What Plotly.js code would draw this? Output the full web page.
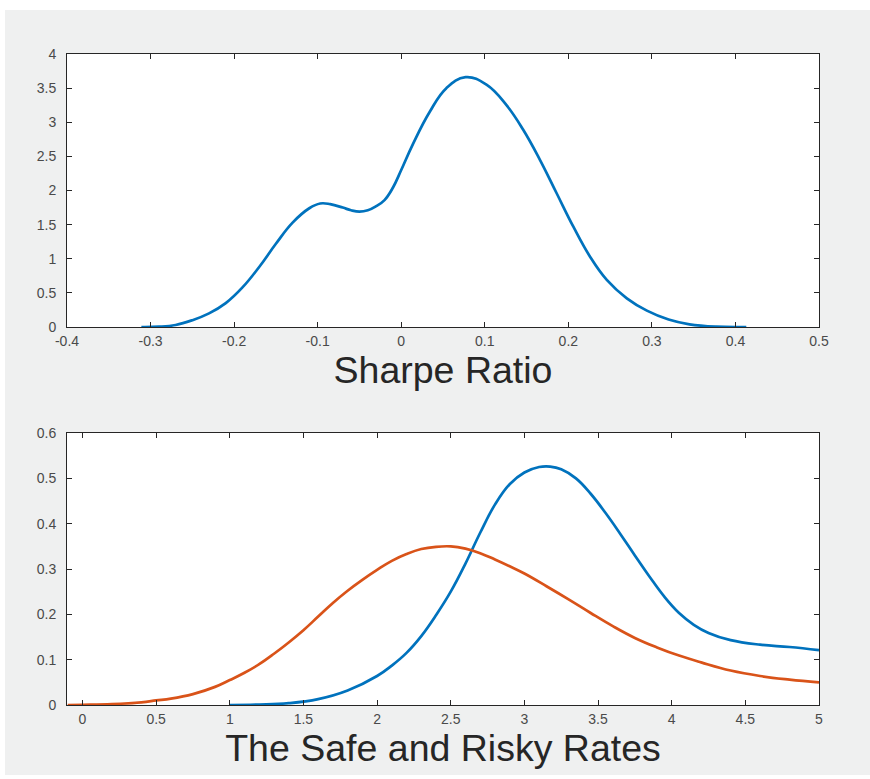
<!DOCTYPE html>
<html>
<head>
<meta charset="utf-8">
<script src="https://cdn.plot.ly/plotly-3.0.1.min.js"></script>
<style>
  html, body { margin: 0; padding: 0; background: #ffffff; width: 870px; height: 779px; overflow: hidden; }
  #chart { position: absolute; left: 5px; top: 10px; width: 865px; height: 765px; }
</style>
</head>
<body>
<div id="chart"></div>
<script>
// Sharpe ratio density (top panel)
const sharpeX = [-0.311, -0.29, -0.27, -0.25, -0.23, -0.21, -0.19, -0.17, -0.15, -0.13, -0.11, -0.097, -0.085, -0.07, -0.06, -0.05, -0.04, -0.03, -0.02, -0.01, 0.0, 0.014, 0.034, 0.054, 0.077, 0.102, 0.126, 0.146, 0.166, 0.186, 0.206, 0.226, 0.246, 0.270, 0.294, 0.320, 0.345, 0.377, 0.413];
const sharpeY = [0, 0.005, 0.03, 0.10, 0.20, 0.35, 0.58, 0.88, 1.22, 1.53, 1.74, 1.81, 1.80, 1.75, 1.71, 1.69, 1.71, 1.77, 1.86, 2.04, 2.30, 2.68, 3.15, 3.50, 3.66, 3.55, 3.25, 2.89, 2.45, 1.96, 1.47, 1.03, 0.69, 0.42, 0.24, 0.11, 0.04, 0.005, 0];

// Safe rate density (bottom panel, blue)
const safeX = [1.0, 1.2, 1.4, 1.6, 1.8, 2.0, 2.1, 2.2, 2.3, 2.4, 2.5, 2.6, 2.7, 2.8, 2.9, 3.0, 3.1, 3.175, 3.25, 3.35, 3.45, 3.55, 3.65, 3.75, 3.85, 3.95, 4.05, 4.15, 4.25, 4.4, 4.6, 4.8, 5.0];
const safeY = [0, 0.001, 0.004, 0.013, 0.032, 0.064, 0.087, 0.115, 0.152, 0.198, 0.250, 0.312, 0.380, 0.442, 0.487, 0.513, 0.525, 0.526, 0.520, 0.500, 0.466, 0.424, 0.378, 0.330, 0.283, 0.239, 0.203, 0.177, 0.159, 0.143, 0.133, 0.128, 0.121];

// Risky rate density (bottom panel, orange)
const riskyX = [-0.1, 0.0, 0.2, 0.4, 0.5, 0.6, 0.75, 0.9, 1.0, 1.1, 1.2, 1.3, 1.4, 1.5, 1.6, 1.7, 1.8, 1.9, 2.0, 2.1, 2.2, 2.3, 2.4, 2.5, 2.6, 2.7, 2.8, 2.9, 3.0, 3.15, 3.3, 3.45, 3.6, 3.75, 3.9, 4.05, 4.2, 4.4, 4.6, 4.8, 5.0];
const riskyY = [0, 0.0005, 0.002, 0.006, 0.010, 0.014, 0.024, 0.040, 0.055, 0.071, 0.090, 0.113, 0.138, 0.165, 0.195, 0.225, 0.252, 0.276, 0.298, 0.318, 0.333, 0.344, 0.349, 0.350, 0.345, 0.335, 0.321, 0.306, 0.290, 0.262, 0.233, 0.203, 0.174, 0.148, 0.127, 0.109, 0.094, 0.076, 0.064, 0.056, 0.050];

// Tick labels
const topXTicks = [-0.4, -0.3, -0.2, -0.1, 0, 0.1, 0.2, 0.3, 0.4, 0.5];
const topXLabels = ["-0.4", "-0.3", "-0.2", "-0.1", "0", "0.1", "0.2", "0.3", "0.4", "0.5"];
const topYTicks = [0, 0.5, 1, 1.5, 2, 2.5, 3, 3.5, 4];
const topYLabels = ["0", "0.5", "1", "1.5", "2", "2.5", "3", "3.5", "4"];
const botXTicks = [0, 0.5, 1, 1.5, 2, 2.5, 3, 3.5, 4, 4.5, 5];
const botXLabels = ["0", "0.5", "1", "1.5", "2", "2.5", "3", "3.5", "4", "4.5", "5"];
const botYTicks = [0, 0.1, 0.2, 0.3, 0.4, 0.5, 0.6];
const botYLabels = ["0", "0.1", "0.2", "0.3", "0.4", "0.5", "0.6"];

// Axis titles
const topTitle = 'Sharpe Ratio';
const bottomTitle = 'The Safe and Risky Rates';

const blue = '#0072BD';
const orange = '#D95319';
const FONT = '"Liberation Sans", Arial, Helvetica, sans-serif';

const lineStyle = (c) => ({ color: c, width: 2.7, shape: 'spline', smoothing: 1.2 });

const traces = [
  { x: sharpeX, y: sharpeY, type: 'scatter', mode: 'lines', xaxis: 'x', yaxis: 'y',
    line: lineStyle(blue), hoverinfo: 'skip' },
  { x: safeX, y: safeY, type: 'scatter', mode: 'lines', xaxis: 'x2', yaxis: 'y2',
    line: lineStyle(blue), hoverinfo: 'skip' },
  { x: riskyX, y: riskyY, type: 'scatter', mode: 'lines', xaxis: 'x2', yaxis: 'y2',
    line: lineStyle(orange), hoverinfo: 'skip' }
];

const axisCommon = {
  showline: true, linecolor: '#262626', linewidth: 1, mirror: 'ticks',
  ticks: 'inside', ticklen: 5, tickwidth: 1, tickcolor: '#262626',
  showgrid: false, zeroline: false,
  tickfont: { family: FONT, size: 14, color: '#4a4a4a' },
  tickmode: 'array', fixedrange: true
};

const titleFont = { family: FONT, size: 37.5, color: '#262626' };

const layout = {
  width: 865, height: 765,
  paper_bgcolor: '#eff0f0', plot_bgcolor: '#ffffff',
  margin: { l: 62, r: 51, t: 44, b: 70 },
  showlegend: false,
  font: { family: FONT },
  xaxis: Object.assign({}, axisCommon, {
    domain: [0, 1], anchor: 'y', range: [-0.4, 0.5],
    tickvals: topXTicks, ticktext: topXLabels, ticklabelstandoff: 1,
    title: { text: topTitle, font: titleFont, standoff: 0 }
  }),
  yaxis: Object.assign({}, axisCommon, {
    domain: [0.5806, 1], anchor: 'x', range: [0, 4],
    tickvals: topYTicks, ticktext: topYLabels, ticklabelstandoff: 7
  }),
  xaxis2: Object.assign({}, axisCommon, {
    domain: [0, 1], anchor: 'y2', range: [-0.105, 5],
    tickvals: botXTicks, ticktext: botXLabels, ticklabelstandoff: 1,
    title: { text: bottomTitle, font: titleFont, standoff: 0 }
  }),
  yaxis2: Object.assign({}, axisCommon, {
    domain: [0, 0.4178], anchor: 'x2', range: [0, 0.6],
    tickvals: botYTicks, ticktext: botYLabels, ticklabelstandoff: 7
  })
};

Plotly.newPlot('chart', traces, layout, { displayModeBar: false, staticPlot: true });
</script>
</body>
</html>
